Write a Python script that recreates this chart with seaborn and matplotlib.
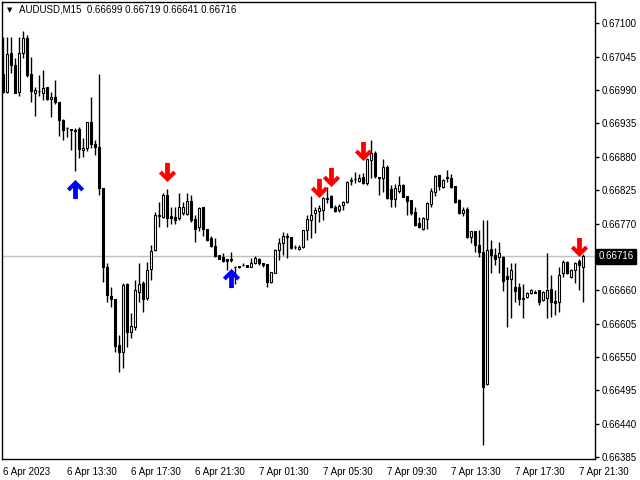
import numpy as np
import pandas as pd
import matplotlib
matplotlib.use("Agg")
import matplotlib.pyplot as plt
import seaborn as sns
from matplotlib.path import Path
from matplotlib.transforms import blended_transform_factory

# AUDUSD M15 candles, 6 Apr 09:30 .. 7 Apr 21:45
opens = [0.67016, 0.66986, 0.67051, 0.67032, 0.66986, 0.67051, 0.67075, 0.67016, 0.66985, 0.66988,
         0.66985, 0.66995, 0.66975, 0.66978, 0.66970, 0.66940, 0.66927, 0.66925, 0.66924, 0.66925,
         0.66891, 0.66894, 0.66937, 0.66901, 0.66896, 0.66828, 0.66698, 0.66650, 0.66645, 0.66570,
         0.66558, 0.66670, 0.66591, 0.66599, 0.66657, 0.66672, 0.66647, 0.66695, 0.66726, 0.66782,
         0.66780, 0.66817, 0.66782, 0.66780, 0.66779, 0.66787, 0.66785, 0.66807, 0.66777, 0.66764,
         0.66797, 0.66761, 0.66746, 0.66733, 0.66718, 0.66715, 0.66711, 0.66711, 0.66698, 0.66700,
         0.66701, 0.66701, 0.66698, 0.66705, 0.66711, 0.66705, 0.66703, 0.66673, 0.66688, 0.66726,
         0.66738, 0.66749, 0.66747, 0.66731, 0.66728, 0.66731, 0.66759, 0.66775, 0.66787, 0.66790,
         0.66792, 0.66810, 0.66815, 0.66797, 0.66792, 0.66800, 0.66805, 0.66840, 0.66843, 0.66840,
         0.66846, 0.66836, 0.66874, 0.66886, 0.66845, 0.66845, 0.66863, 0.66827, 0.66810, 0.66823,
         0.66833, 0.66815, 0.66808, 0.66789, 0.66771, 0.66761, 0.66777, 0.66802, 0.66822, 0.66850,
         0.66830, 0.66845, 0.66845, 0.66831, 0.66808, 0.66787, 0.66794, 0.66747, 0.66757, 0.66734,
         0.66723, 0.66505, 0.66728, 0.66718, 0.66715, 0.66715, 0.66683, 0.66678, 0.66665, 0.66665,
         0.66647, 0.66649, 0.66655, 0.66657, 0.66660, 0.66644, 0.66647, 0.66662, 0.66642, 0.66640,
         0.66688, 0.66706, 0.66682, 0.66693, 0.66708, 0.66699]
highs = [0.67077, 0.67077, 0.67077, 0.67042, 0.67077, 0.67088, 0.67080, 0.67044, 0.66995, 0.67014,
         0.67023, 0.66995, 0.66986, 0.67006, 0.66970, 0.66942, 0.66929, 0.66925, 0.66927, 0.66929,
         0.66911, 0.66937, 0.66978, 0.66907, 0.67016, 0.66828, 0.66705, 0.66665, 0.66645, 0.66586,
         0.66672, 0.66672, 0.66622, 0.66677, 0.66705, 0.66675, 0.66706, 0.66734, 0.66789, 0.66805,
         0.66820, 0.66827, 0.66797, 0.66797, 0.66820, 0.66805, 0.66820, 0.66817, 0.66784, 0.66797,
         0.66797, 0.66761, 0.66749, 0.66746, 0.66718, 0.66721, 0.66711, 0.66723, 0.66700, 0.66700,
         0.66705, 0.66701, 0.66713, 0.66716, 0.66713, 0.66705, 0.66703, 0.66690, 0.66728, 0.66746,
         0.66756, 0.66754, 0.66747, 0.66734, 0.66734, 0.66759, 0.66784, 0.66815, 0.66797, 0.66800,
         0.66813, 0.66830, 0.66817, 0.66800, 0.66802, 0.66807, 0.66840, 0.66846, 0.66855, 0.66851,
         0.66853, 0.66878, 0.66907, 0.66889, 0.66845, 0.66876, 0.66866, 0.66833, 0.66835, 0.66848,
         0.66835, 0.66815, 0.66808, 0.66797, 0.66780, 0.66780, 0.66805, 0.66828, 0.66850, 0.66850,
         0.66843, 0.66858, 0.66851, 0.66831, 0.66810, 0.66797, 0.66797, 0.66757, 0.66757, 0.66759,
         0.66775, 0.66775, 0.66743, 0.66729, 0.66739, 0.66716, 0.66698, 0.66705, 0.66705, 0.66672,
         0.66670, 0.66657, 0.66662, 0.66660, 0.66660, 0.66658, 0.66721, 0.66685, 0.66660, 0.66698,
         0.66710, 0.66708, 0.66695, 0.66706, 0.66711, 0.66719]
lows = [0.66985, 0.66985, 0.67018, 0.66985, 0.66980, 0.67042, 0.67011, 0.66970, 0.66947, 0.66980,
        0.66973, 0.66973, 0.66945, 0.66967, 0.66915, 0.66907, 0.66912, 0.66891, 0.66856, 0.66878,
        0.66879, 0.66889, 0.66894, 0.66883, 0.66817, 0.66673, 0.66640, 0.66632, 0.66558, 0.66525,
        0.66532, 0.66566, 0.66581, 0.66594, 0.66640, 0.66624, 0.66644, 0.66677, 0.66724, 0.66764,
        0.66779, 0.66764, 0.66769, 0.66769, 0.66775, 0.66784, 0.66784, 0.66772, 0.66739, 0.66757,
        0.66749, 0.66741, 0.66731, 0.66715, 0.66711, 0.66706, 0.66693, 0.66706, 0.66670, 0.66696,
        0.66700, 0.66698, 0.66698, 0.66703, 0.66701, 0.66698, 0.66665, 0.66672, 0.66688, 0.66710,
        0.66718, 0.66713, 0.66728, 0.66728, 0.66726, 0.66729, 0.66743, 0.66746, 0.66754, 0.66772,
        0.66775, 0.66803, 0.66795, 0.66789, 0.66789, 0.66792, 0.66803, 0.66833, 0.66836, 0.66838,
        0.66835, 0.66833, 0.66845, 0.66845, 0.66817, 0.66822, 0.66810, 0.66797, 0.66797, 0.66820,
        0.66813, 0.66784, 0.66784, 0.66766, 0.66762, 0.66759, 0.66761, 0.66797, 0.66815, 0.66825,
        0.66828, 0.66838, 0.66828, 0.66803, 0.66785, 0.66782, 0.66746, 0.66738, 0.66723, 0.66715,
        0.66405, 0.66504, 0.66688, 0.66701, 0.66688, 0.66658, 0.66599, 0.66614, 0.66640, 0.66635,
        0.66614, 0.66647, 0.66654, 0.66655, 0.66635, 0.66642, 0.66614, 0.66616, 0.66619, 0.66624,
        0.66682, 0.66687, 0.66680, 0.66672, 0.66660, 0.66641]
closes = [0.66986, 0.67049, 0.67032, 0.66985, 0.67051, 0.67075, 0.67014, 0.66988, 0.66990, 0.66989,
          0.66993, 0.66975, 0.66978, 0.66970, 0.66940, 0.66924, 0.66928, 0.66924, 0.66922, 0.66892,
          0.66894, 0.66937, 0.66901, 0.66896, 0.66828, 0.66698, 0.66652, 0.66645, 0.66568, 0.66558,
          0.66668, 0.66591, 0.66601, 0.66660, 0.66670, 0.66645, 0.66693, 0.66724, 0.66784, 0.66784,
          0.66817, 0.66779, 0.66779, 0.66775, 0.66797, 0.66797, 0.66807, 0.66775, 0.66761, 0.66795,
          0.66761, 0.66743, 0.66733, 0.66716, 0.66711, 0.66708, 0.66708, 0.66710, 0.66699, 0.66698,
          0.66702, 0.66698, 0.66705, 0.66713, 0.66705, 0.66701, 0.66673, 0.66690, 0.66726, 0.66738,
          0.66749, 0.66747, 0.66729, 0.66731, 0.66731, 0.66759, 0.66777, 0.66784, 0.66792, 0.66795,
          0.66812, 0.66812, 0.66797, 0.66790, 0.66799, 0.66805, 0.66838, 0.66841, 0.66844, 0.66845,
          0.66836, 0.66876, 0.66887, 0.66848, 0.66846, 0.66863, 0.66812, 0.66810, 0.66828, 0.66833,
          0.66813, 0.66807, 0.66787, 0.66767, 0.66764, 0.66779, 0.66803, 0.66823, 0.66848, 0.66831,
          0.66841, 0.66846, 0.66830, 0.66805, 0.66787, 0.66792, 0.66747, 0.66757, 0.66734, 0.66723,
          0.66500, 0.66726, 0.66718, 0.66711, 0.66721, 0.66675, 0.66678, 0.66693, 0.66658, 0.66645,
          0.66645, 0.66655, 0.66660, 0.66656, 0.66640, 0.66657, 0.66660, 0.66640, 0.66639, 0.66685,
          0.66706, 0.66688, 0.66693, 0.66705, 0.66701, 0.66716]

x_labels = ["6 Apr 2023", "6 Apr 13:30", "6 Apr 17:30", "6 Apr 21:30", "7 Apr 01:30",
            "7 Apr 05:30", "7 Apr 09:30", "7 Apr 13:30", "7 Apr 17:30", "7 Apr 21:30"]
y_ticks = [0.67100, 0.67045, 0.66990, 0.66935, 0.66880, 0.66825, 0.66770,
           0.66715, 0.66660, 0.66605, 0.66550, 0.66495, 0.66440, 0.66385]

# signal arrows (bar index, price)
sell_bars = [41, 79, 82, 90, 144]
sell_prices = [0.66855, 0.66829, 0.66846, 0.66889, 0.66731]
buy_bars = [18, 57]
buy_prices = [0.66827, 0.66680]

last_price = 0.66716
title = "AUDUSD,M15  0.66699 0.66719 0.66641 0.66716"

df = pd.DataFrame({"open": opens, "high": highs, "low": lows, "close": closes})
df["bar"] = np.arange(len(df))
df["up"] = df["close"] >= df["open"]

sns.set_theme(style="white")
plt.rcParams["font.family"] = ["Liberation Sans", "DejaVu Sans"]

fig = plt.figure(figsize=(6.4, 4.8), dpi=100)
ax = fig.add_axes([2 / 640, 21 / 480, 593 / 640, 457 / 480])

ax.axhline(last_price, color="#c0c0c0", lw=1, zorder=1)

ax.vlines(df["bar"], df["low"], df["high"], color="black", lw=1, zorder=2)
body_bottom = df[["open", "close"]].min(axis=1)
body_height = (df["close"] - df["open"]).abs()
fill = np.where(df["up"], "white", "black")
ax.bar(df["bar"], body_height, bottom=body_bottom, width=0.5, color=fill,
       edgecolor="black", linewidth=0.8, zorder=3)

# MT4-style thick arrows
down_verts = [(-0.25, 1), (0.25, 1), (0.25, -0.15), (0.6, 0.2), (0.9, -0.1),
              (0, -1), (-0.9, -0.1), (-0.6, 0.2), (-0.25, -0.15), (-0.25, 1)]
down_arrow = Path(down_verts, closed=True)
up_arrow = Path([(x, -y) for x, y in down_verts], closed=True)

sns.scatterplot(x=sell_bars, y=sell_prices, marker=down_arrow, s=190, color="#ff0000",
                linewidth=0, ax=ax, zorder=5, legend=False)
sns.scatterplot(x=buy_bars, y=buy_prices, marker=up_arrow, s=190, color="#0000ff",
                linewidth=0, ax=ax, zorder=5, legend=False)

ax.set_xlim(-0.25, 148)
ax.set_ylim(0.66382, 0.67135)

ax.yaxis.tick_right()
ax.set_yticks(y_ticks)
# the tick under the current-price box carries no label
ax.set_yticklabels(["" if v == 0.66715 else f"{v:.5f}" for v in y_ticks])
ax.set_xticks(np.arange(len(x_labels)) * 16)
ax.set_xticklabels(x_labels, ha="left")
ax.tick_params(axis="both", direction="out", length=3, width=1, color="black",
               labelsize=7, labelcolor="black", pad=2)
ax.tick_params(axis="x", pad=3)
ax.set_xlabel("")
ax.set_ylabel("")
for s in ax.spines.values():
    s.set_color("black")
    s.set_linewidth(1)

trans = blended_transform_factory(ax.transAxes, ax.transData)
ax.text(1.006, last_price, "0.66716", transform=trans, fontsize=7, color="white",
        va="center", ha="left",
        bbox=dict(boxstyle="square,pad=0.25", fc="black", ec="black"), zorder=6, clip_on=False)

fig.text(7 / 640, 1 - 10 / 480, "\u25bc", fontsize=5, va="center", ha="left",
         family="DejaVu Sans", color="black")
fig.text(19 / 640, 1 - 10 / 480, title, fontsize=7, va="center", ha="left", color="black")

fig.savefig("out.png", dpi=100, facecolor="white")
